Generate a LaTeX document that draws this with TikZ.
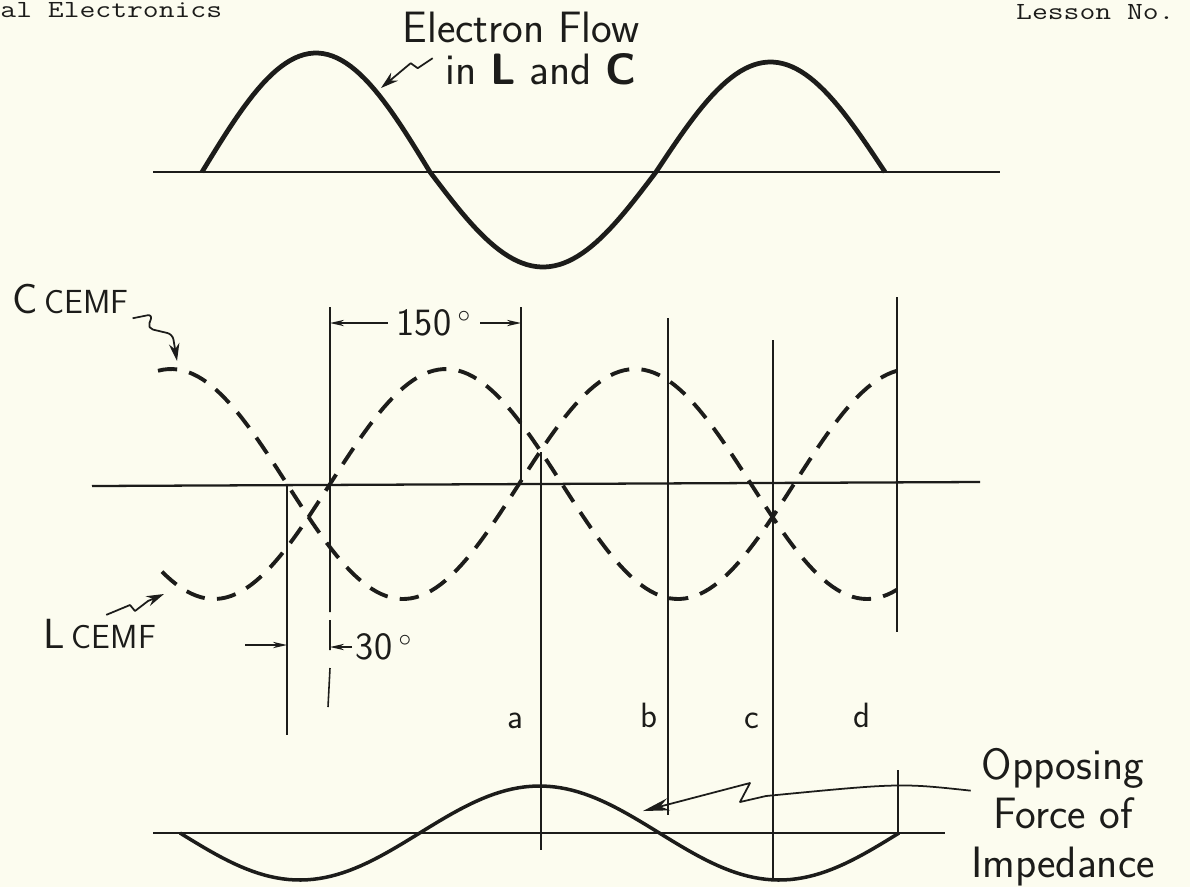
\documentclass[tikz,border=0pt]{standalone}
\usepackage{fontspec}
\usetikzlibrary{arrows.meta}
\definecolor{paper}{RGB}{252,252,239}
\definecolor{ink}{RGB}{28,28,26}
\begin{document}
\begin{tikzpicture}[x=0.02cm,y=-0.02cm,
  axis/.style={ink,line width=1.3pt},
  guide/.style={ink,line width=0.9pt},
  wave/.style={ink,line width=2.7pt,line join=round},
  cemf/.style={ink,line width=2.2pt,dash pattern=on 11pt off 7pt},
  pointer/.style={ink,line width=1pt,line join=round,-{Stealth[length=10pt,width=6pt]}},
  dimarrow/.style={ink,line width=0.8pt,-{Stealth[length=8pt,width=3.6pt]}},
  lettering/.style={ink,inner sep=0pt,font=\sffamily\fontsize{20}{24}\selectfont},
  typed/.style={ink,inner sep=0pt,xscale=1.25,font=\ttfamily\fontsize{14}{16}\selectfont}]
\useasboundingbox (0,0) rectangle (1190,887);
\fill[paper] (0,0) rectangle (1190,887);
\node[typed,anchor=base west] (hdleft) at (0,17) {al Electronics};
\node[typed,anchor=base east] (hdright) at (1175,19) {Lesson No.};

\draw[axis] (153,172)--(1000,172);
\draw[wave] plot[domain=202:430,samples=50] (\x,{172-119*sin((\x-202)/228*180)})
  --plot[domain=430:656,samples=50] (\x,{172+95*sin((\x-430)/226*180)})
  --plot[domain=656:885,samples=50] (\x,{172-110*sin((\x-656)/229*180)});
\node[lettering,font=\sffamily\fontsize{25}{30}\selectfont,anchor=base] (flow) at (521,42) {Electron Flow};
\node[lettering,font=\sffamily\fontsize{25}{30}\selectfont,anchor=base west] (inlc) at (445,84) {in \textbf{L} and \textbf{C}};
\coordinate (flowtip) at (381,88);
\draw[pointer] ([xshift=-7pt,yshift=6pt]inlc.west)--++(-15,10)--++(-7,-5)--(flowtip);

\draw[axis] (92,486)--(980,482);
\draw[cemf] plot[domain=158:897,samples=150] (\x,{484-115*cos((\x-171)/232*180)});
\draw[cemf] plot[domain=162:897,samples=150] (\x,{484+115*cos((\x-214)/232*180)});
\draw[guide] (287,484)--(287,735);
\draw[guide] (330,307)--(330,612) (330,620)--(330,650) (330,668)--(328,707);
\draw[guide] (521,307)--(521,484);
\draw[guide] (541,452)--(541,850);
\draw[guide] (668,318)--(668,815);
\draw[guide] (773,340)--(773,878);
\draw[guide] (897,297)--(897,632) (898,770)--(898,833);

\node[lettering,font=\sffamily\fontsize{22}{26}\selectfont,inner sep=5pt] (deg150) at (434,323) {150\,$^\circ$};
\coordinate (bar150l) at (330,323);
\coordinate (bar150r) at (521,323);
\draw[dimarrow] (deg150.west)--(bar150l);
\draw[dimarrow] (deg150.east)--(bar150r);
\node[lettering,font=\sffamily\fontsize{22}{26}\selectfont,anchor=west,inner sep=2pt] (deg30) at (352,647) {30\,$^\circ$};
\coordinate (bar30r) at (330,647);
\coordinate (tail30l) at (245,645);
\coordinate (bar30l) at (287,645);
\draw[dimarrow] (deg30.west)--(bar30r);
\draw[dimarrow] (tail30l)--(bar30l);

\node[lettering,font=\sffamily\fontsize{24}{26}\selectfont,anchor=base west] (ccemf) at (12,313) {C\,{\fontsize{19}{22}\selectfont CEMF}};
\coordinate (ctip) at (177,361);
\draw[pointer,rounded corners=3pt] ([xshift=2pt,yshift=-3pt]ccemf.base east)--++(20,-4)--++(-5,14)--++(25,6)--(ctip);
\node[lettering,font=\sffamily\fontsize{24}{26}\selectfont,anchor=base west] (lcemf) at (43,648) {L\,{\fontsize{19}{22}\selectfont CEMF}};
\coordinate (ltip) at (164,594);
\draw[pointer] ([xshift=36pt,yshift=2pt]lcemf.north west)--(130,605)--(135,611)--(148,601)--(ltip);

\node[lettering,anchor=base] (ptA) at (515,728) {a};
\node[lettering,anchor=base] (ptB) at (649,727) {b};
\node[lettering,anchor=base] (ptC) at (752,728) {c};
\node[lettering,anchor=base] (ptD) at (862,727) {d};

\draw[axis] (153,833)--(945,833);
\draw[ink,line width=2pt] plot[domain=180:899,samples=120] (\x,{833+47*sin((\x-180)*0.751)});
\node[lettering,font=\sffamily\fontsize{25}{28}\selectfont,align=center] (impedance) at (1063,817) {Opposing\\Force of\\Impedance};
\coordinate (imptip) at (643,811);
\draw[pointer,-{Stealth[length=15pt,width=7pt]}] ([yshift=15pt]impedance.west) .. controls (900,783) .. (766,796)--(740,802)--(750,783)--(imptip);
\end{tikzpicture}
\end{document}
